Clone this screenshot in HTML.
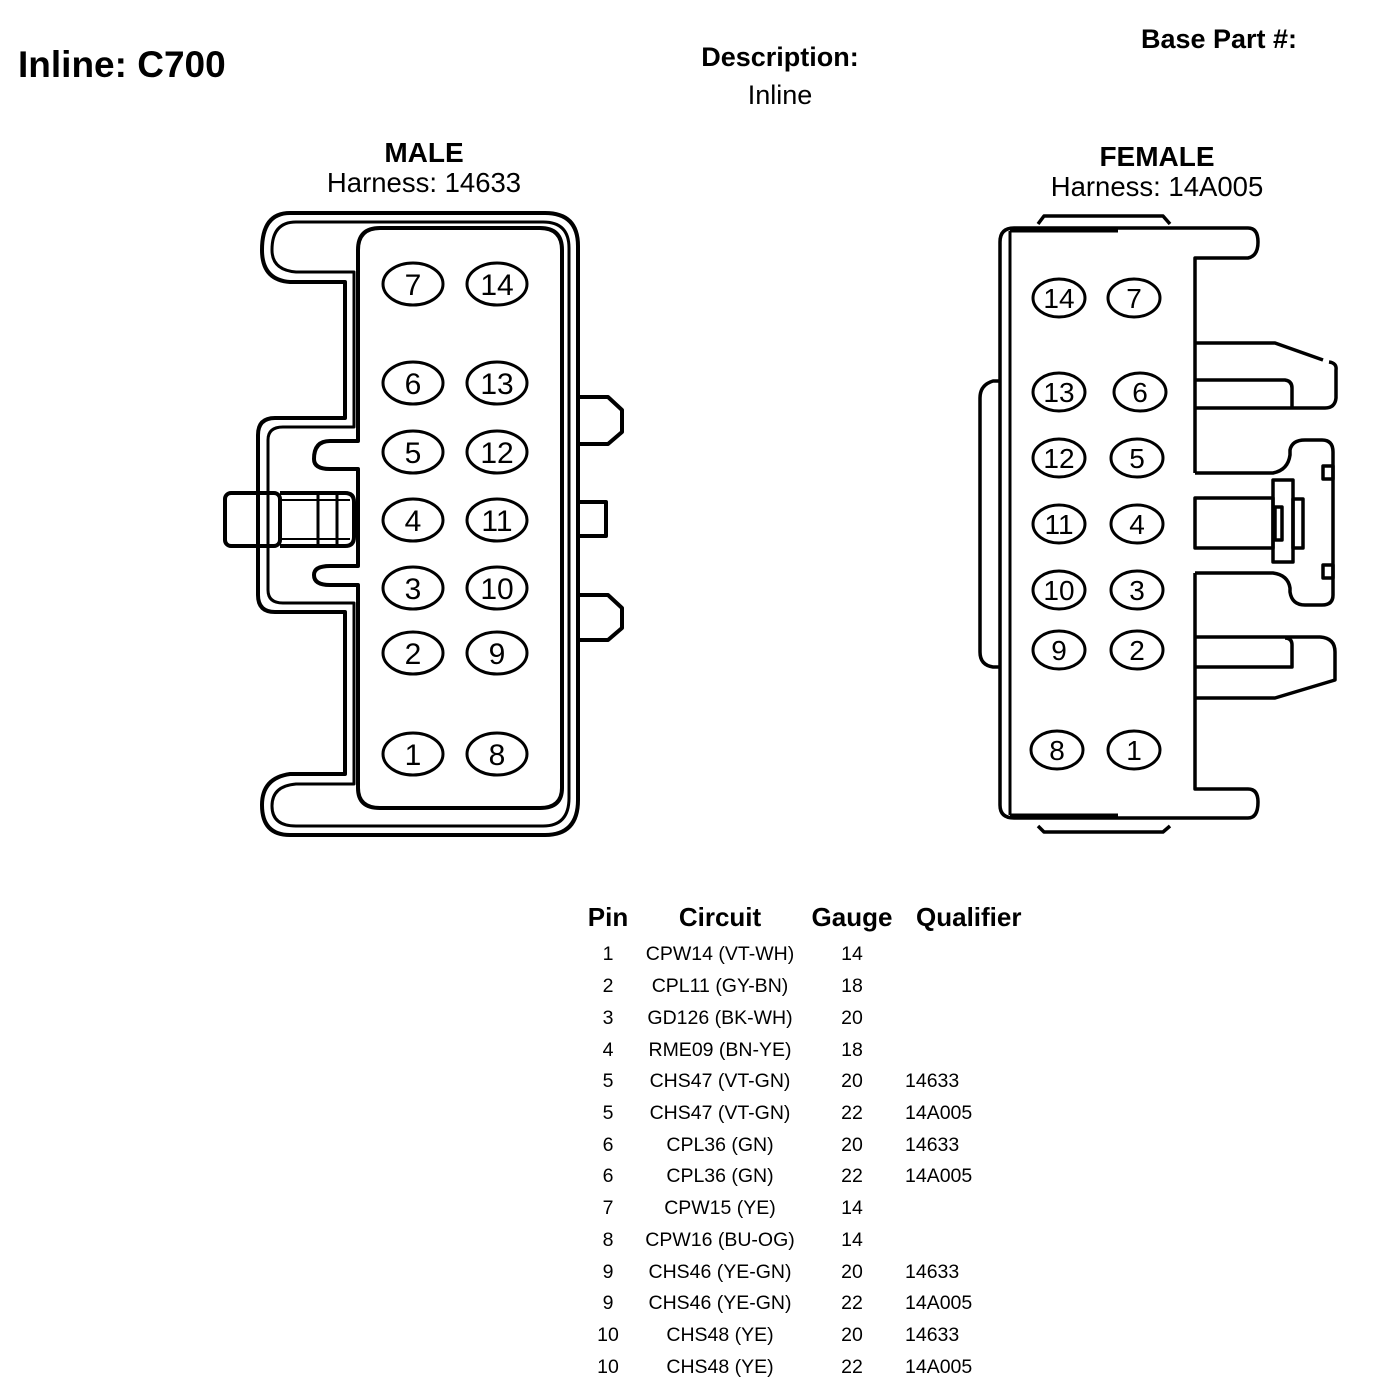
<!DOCTYPE html>
<html><head><meta charset="utf-8"><style>
html,body{margin:0;padding:0;background:#fff;}
body{width:1376px;height:1390px;overflow:hidden;}
svg{display:block;}
text{font-family:"Liberation Sans",Arial,sans-serif;fill:#000;}
</style></head><body>
<svg width="1376" height="1390" viewBox="0 0 1376 1390" xmlns="http://www.w3.org/2000/svg">
<g>
<text x="18" y="77" font-size="37" font-weight="bold">Inline: C700</text>
<text x="780" y="66" font-size="27" font-weight="bold" text-anchor="middle">Description:</text>
<text x="780" y="104" font-size="27" text-anchor="middle">Inline</text>
<text x="1219" y="48" font-size="27" font-weight="bold" text-anchor="middle">Base Part #:</text>
<text x="424" y="162" font-size="28" font-weight="bold" text-anchor="middle">MALE</text>
<text x="424" y="192" font-size="27.5" text-anchor="middle">Harness: 14633</text>
<text x="1157" y="166" font-size="28" font-weight="bold" text-anchor="middle">FEMALE</text>
<text x="1157" y="196" font-size="27.5" text-anchor="middle">Harness: 14A005</text>
</g>

<!-- MALE connector -->
<g fill="none" stroke="#000" stroke-width="4" stroke-linejoin="round">
  <path d="M290,213 H545 Q578,213 578,246 V800 Q578,835 545,835 H290 Q262,835 262,805 Q262,778 290,774 H345 V612 H275 Q258,612 258,595 V435 Q258,418 275,418 H345 V282 H290 Q262,280 262,250 Q262,213 290,213 Z"/>
  <path d="M296,222 H543 Q569,222 569,248 V798 Q569,826 543,826 H296 Q272,826 272,806 Q272,786 296,784 H354 V603 H283 Q268,603 268,590 V440 Q268,427 283,427 H354 V272 H296 Q272,270 272,250 Q272,222 296,222 Z" stroke-width="3"/>
  <path d="M380,228 H540 Q562,228 562,250 V788 Q562,808 540,808 H380 Q358,808 358,788 V623 V585 H330 Q314,585 314,575 Q314,566 330,566 H358 V469 H330 Q314,469 314,459 Q314,441 330,441 H358 V250 Q358,228 380,228 Z" stroke-width="4"/>
  <path d="M578,397 H608 L622,410 V432 L608,444 H578"/>
  <path d="M578,502 H606 V536 H578"/>
  <path d="M578,595 H608 L622,608 V628 L608,640 H578"/>
  <rect x="225" y="493" width="55" height="53" rx="6"/>
  <path d="M280,493 H345 Q354,493 354,502 V537 Q354,546 345,546 H280"/>
  <line x1="318" y1="493" x2="318" y2="546" stroke-width="3"/>
  <line x1="337" y1="493" x2="337" y2="546" stroke-width="3"/>
  <line x1="280" y1="500" x2="350" y2="500" stroke-width="2"/>
  <line x1="280" y1="539" x2="350" y2="539" stroke-width="2"/>
</g>
<g fill="none" stroke="#000" stroke-width="3">
  <ellipse cx="413" cy="284" rx="30" ry="21"/><ellipse cx="497" cy="284" rx="30" ry="21"/>
  <ellipse cx="413" cy="383" rx="30" ry="21"/><ellipse cx="497" cy="383" rx="30" ry="21"/>
  <ellipse cx="413" cy="452" rx="30" ry="21"/><ellipse cx="497" cy="452" rx="30" ry="21"/>
  <ellipse cx="413" cy="520" rx="30" ry="21"/><ellipse cx="497" cy="520" rx="30" ry="21"/>
  <ellipse cx="413" cy="588" rx="30" ry="21"/><ellipse cx="497" cy="588" rx="30" ry="21"/>
  <ellipse cx="413" cy="653" rx="30" ry="21"/><ellipse cx="497" cy="653" rx="30" ry="21"/>
  <ellipse cx="413" cy="754" rx="30" ry="21"/><ellipse cx="497" cy="754" rx="30" ry="21"/>
</g>
<g font-size="30" text-anchor="middle">
  <text x="413" y="295">7</text><text x="497" y="295">14</text>
  <text x="413" y="394">6</text><text x="497" y="394">13</text>
  <text x="413" y="463">5</text><text x="497" y="463">12</text>
  <text x="413" y="531">4</text><text x="497" y="531">11</text>
  <text x="413" y="599">3</text><text x="497" y="599">10</text>
  <text x="413" y="664">2</text><text x="497" y="664">9</text>
  <text x="413" y="765">1</text><text x="497" y="765">8</text>
</g>

<!-- FEMALE connector -->
<g fill="none" stroke="#000" stroke-width="3.5" stroke-linejoin="round">
  <path d="M1038,224 L1044,216 H1163 L1170,224"/>
  <path d="M1038,826 L1044,832 H1163 L1170,826"/>
  <!-- main body outline -->
  <path d="M1195,473 V258 H1248 Q1258,256 1258,242 Q1258,228 1248,228 H1014 Q1000,228 1000,242 V805 Q1000,818 1014,818 H1248 Q1258,818 1258,802 Q1258,789 1248,789 H1195 V573"/>
  <line x1="1010" y1="231" x2="1010" y2="815" stroke-width="3"/>
  <line x1="1010" y1="231" x2="1118" y2="231" stroke-width="3"/>
  <line x1="1010" y1="815" x2="1118" y2="815" stroke-width="3"/>
  <path d="M1000,381 H993 Q980,385 980,398 V652 Q980,665 993,667 H1000"/>
  <!-- upper arm -->
  <path d="M1195,343 H1275 L1323,360"/>
  <path d="M1329,362 Q1337,363 1336,370 V398 Q1335,408 1325,408 H1195"/>
  <path d="M1195,380 H1285 Q1292,381 1292,388 V408"/>
  <!-- latch -->
  <path d="M1195,473 H1273 Q1288,470 1290,455 V450 Q1292,440 1305,440 H1322 Q1333,440 1333,452 V595 Q1333,605 1322,605 H1305 Q1292,605 1290,592 V588 Q1288,575 1273,573 H1195"/>
  <rect x="1323" y="466" width="10" height="13"/>
  <rect x="1323" y="565" width="10" height="13"/>
  <rect x="1273" y="480" width="20" height="82"/>
  <rect x="1293" y="499" width="10" height="49"/>
  <rect x="1275" y="507" width="7" height="33"/>
  <rect x="1195" y="498" width="78" height="50"/>
  <!-- lower arm -->
  <path d="M1195,637 H1320 Q1335,638 1335,652 V680 L1275,698 H1195"/>
  <path d="M1195,667 H1292 V645 Q1292,638 1285,638"/>
</g>
<g fill="none" stroke="#000" stroke-width="3">
  <ellipse cx="1059" cy="298" rx="26" ry="19"/><ellipse cx="1134" cy="298" rx="26" ry="19"/>
  <ellipse cx="1059" cy="392" rx="26" ry="19"/><ellipse cx="1140" cy="392" rx="26" ry="19"/>
  <ellipse cx="1059" cy="458" rx="26" ry="19"/><ellipse cx="1137" cy="458" rx="26" ry="19"/>
  <ellipse cx="1059" cy="524" rx="26" ry="19"/><ellipse cx="1137" cy="524" rx="26" ry="19"/>
  <ellipse cx="1059" cy="590" rx="26" ry="19"/><ellipse cx="1137" cy="590" rx="26" ry="19"/>
  <ellipse cx="1059" cy="650" rx="26" ry="19"/><ellipse cx="1137" cy="650" rx="26" ry="19"/>
  <ellipse cx="1057" cy="750" rx="26" ry="19"/><ellipse cx="1134" cy="750" rx="26" ry="19"/>
</g>
<g font-size="28" text-anchor="middle">
  <text x="1059" y="308">14</text><text x="1134" y="308">7</text>
  <text x="1059" y="402">13</text><text x="1140" y="402">6</text>
  <text x="1059" y="468">12</text><text x="1137" y="468">5</text>
  <text x="1059" y="534">11</text><text x="1137" y="534">4</text>
  <text x="1059" y="600">10</text><text x="1137" y="600">3</text>
  <text x="1059" y="660">9</text><text x="1137" y="660">2</text>
  <text x="1057" y="760">8</text><text x="1134" y="760">1</text>
</g>

<!-- table -->
<g font-size="26" font-weight="bold">
  <text x="608" y="926" text-anchor="middle">Pin</text>
  <text x="720" y="926" text-anchor="middle">Circuit</text>
  <text x="852" y="926" text-anchor="middle">Gauge</text>
  <text x="916" y="926">Qualifier</text>
</g>
<g font-size="19.5">
  <g text-anchor="middle">
  <text x="608" y="960">1</text><text x="720" y="960">CPW14 (VT-WH)</text><text x="852" y="960">14</text>
  <text x="608" y="992">2</text><text x="720" y="992">CPL11 (GY-BN)</text><text x="852" y="992">18</text>
  <text x="608" y="1024">3</text><text x="720" y="1024">GD126 (BK-WH)</text><text x="852" y="1024">20</text>
  <text x="608" y="1056">4</text><text x="720" y="1056">RME09 (BN-YE)</text><text x="852" y="1056">18</text>
  <text x="608" y="1087">5</text><text x="720" y="1087">CHS47 (VT-GN)</text><text x="852" y="1087">20</text>
  <text x="608" y="1119">5</text><text x="720" y="1119">CHS47 (VT-GN)</text><text x="852" y="1119">22</text>
  <text x="608" y="1151">6</text><text x="720" y="1151">CPL36 (GN)</text><text x="852" y="1151">20</text>
  <text x="608" y="1182">6</text><text x="720" y="1182">CPL36 (GN)</text><text x="852" y="1182">22</text>
  <text x="608" y="1214">7</text><text x="720" y="1214">CPW15 (YE)</text><text x="852" y="1214">14</text>
  <text x="608" y="1246">8</text><text x="720" y="1246">CPW16 (BU-OG)</text><text x="852" y="1246">14</text>
  <text x="608" y="1278">9</text><text x="720" y="1278">CHS46 (YE-GN)</text><text x="852" y="1278">20</text>
  <text x="608" y="1309">9</text><text x="720" y="1309">CHS46 (YE-GN)</text><text x="852" y="1309">22</text>
  <text x="608" y="1341">10</text><text x="720" y="1341">CHS48 (YE)</text><text x="852" y="1341">20</text>
  <text x="608" y="1373">10</text><text x="720" y="1373">CHS48 (YE)</text><text x="852" y="1373">22</text>
  </g>
  <text x="905" y="1087">14633</text>
  <text x="905" y="1119">14A005</text>
  <text x="905" y="1151">14633</text>
  <text x="905" y="1182">14A005</text>
  <text x="905" y="1278">14633</text>
  <text x="905" y="1309">14A005</text>
  <text x="905" y="1341">14633</text>
  <text x="905" y="1373">14A005</text>
</g>
</svg>
</body></html>
